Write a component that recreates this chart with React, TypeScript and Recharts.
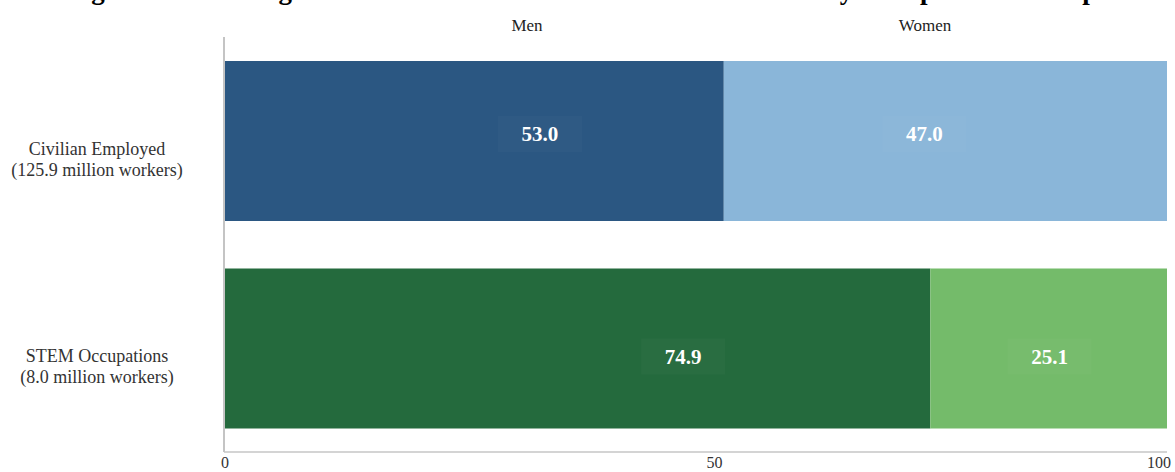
import React from "react";
import { BarChart, Bar, XAxis, YAxis, Cell, LabelList } from "recharts";

const TITLE = "Figure 1. Percentages of the Workforce that are Men and Women by Occupational Groups";
const categories = ["Civilian Employed", "STEM Occupations"];
const subLabels = ["(125.9 million workers)", "(8.0 million workers)"];
const seriesNames = ["Men", "Women"];
const menValues = [53.0, 74.9];
const womenValues = [47.0, 25.1];
const xTicks = [0, 50, 100];

const menColors = ["#2B5782", "#246A3D"];
const womenColors = ["#8AB6D9", "#74BB6A"];
// label horizontal offsets from bar centre (style only)
const LABEL_DX: Record<string, number[]> = { men: [66, 106], women: [-21, 1] };
const LABEL_DY = [-7, 8];

const data = categories.map((c, i) => ({
  name: c,
  sub: subLabels[i],
  men: menValues[i],
  women: womenValues[i],
}));

const SERIF = "'Liberation Serif', 'Times New Roman', serif";

const YTick = (props: any) => {
  const { y, payload, index } = props;
  const cx = 97;
  const st = { fontFamily: SERIF, fontSize: 18 };
  return (
    <g>
      <text x={cx} y={y + 14} textAnchor="middle" fontFamily="Liberation Serif" style={st} fill="#333">
        {payload.value}
      </text>
      <text x={cx} y={y + 35} textAnchor="middle" fontFamily="Liberation Serif" style={st} fill="#333">
        {subLabels[index]}
      </text>
    </g>
  );
};

const XTick = (props: any) => {
  const { x, y, payload, index } = props;
  const anchor = index === xTicks.length - 1 ? "end" : "middle";
  const shift = index === 0 ? 1 : index === xTicks.length - 1 ? 8 : 19;
  return (
    <text x={x + shift} y={y + 16} textAnchor={anchor} fontFamily="Liberation Serif" style={{ fontFamily: SERIF, fontSize: 16 }} fill="#333">
      {payload.value}
    </text>
  );
};

const makeLabel = (key: string) => (props: any) => {
  const { x, y, width, height, value, index } = props;
  const cx = x + width / 2 + LABEL_DX[key][index];
  const cy = y + height / 2 + LABEL_DY[index];
  return (
    <g>
      <rect x={cx - 42} y={cy - 18} width={84} height={36} fill="rgba(255,255,255,0.025)" />
      <text x={cx} y={cy + 7} textAnchor="middle" style={{ fontFamily: SERIF, fontSize: 21, fontWeight: "bold" }} fill="#fff">
        {Number(value).toFixed(1)}
      </text>
    </g>
  );
};

export default function App() {
  return (
    <div style={{ position: "absolute", left: 0, top: 0, width: 1175, height: 472, background: "#fff", overflow: "hidden" }}>
      <div
        style={{
          position: "absolute",
          left: 0,
          width: 1175,
          top: -25,
          textAlign: "center",
          fontFamily: SERIF,
          fontWeight: "bold",
          fontSize: 27,
          lineHeight: "30px",
          color: "#000",
          whiteSpace: "nowrap",
        }}
      >
        {TITLE}
      </div>
      {seriesNames.map((n, i) => (
        <div
          key={n}
          style={{
            position: "absolute",
            top: 16,
            left: i === 0 ? 527 : 925,
            transform: "translateX(-50%)",
            fontFamily: SERIF,
            fontSize: 17,
            color: "#222",
          }}
        >
          {n}
        </div>
      ))}
      <BarChart
        width={1175}
        height={472}
        data={data}
        layout="vertical"
        margin={{ top: 37, right: 8, bottom: 0, left: 0 }}
        barSize={160}
      >
        <XAxis
          type="number"
          domain={[0, 100]}
          ticks={xTicks}
          height={20}
          tickLine={false}
          axisLine={{ stroke: "#d4d4d4", strokeWidth: 2 }}
          tick={<XTick />}
          tickMargin={0}
          tickSize={0}
        />
        <YAxis
          type="category"
          dataKey="name"
          width={224}
          tickLine={false}
          axisLine={{ stroke: "#c4c4c4", strokeWidth: 2 }}
          tick={<YTick />}
        />
        <Bar dataKey="men" name="Men" stackId="a" isAnimationActive={false}>
          {data.map((_, i) => (
            <Cell key={i} fill={menColors[i]} />
          ))}
          <LabelList dataKey="men" content={makeLabel("men")} />
        </Bar>
        <Bar dataKey="women" name="Women" stackId="a" isAnimationActive={false}>
          {data.map((_, i) => (
            <Cell key={i} fill={womenColors[i]} />
          ))}
          <LabelList dataKey="women" content={makeLabel("women")} />
        </Bar>
      </BarChart>
    </div>
  );
}
